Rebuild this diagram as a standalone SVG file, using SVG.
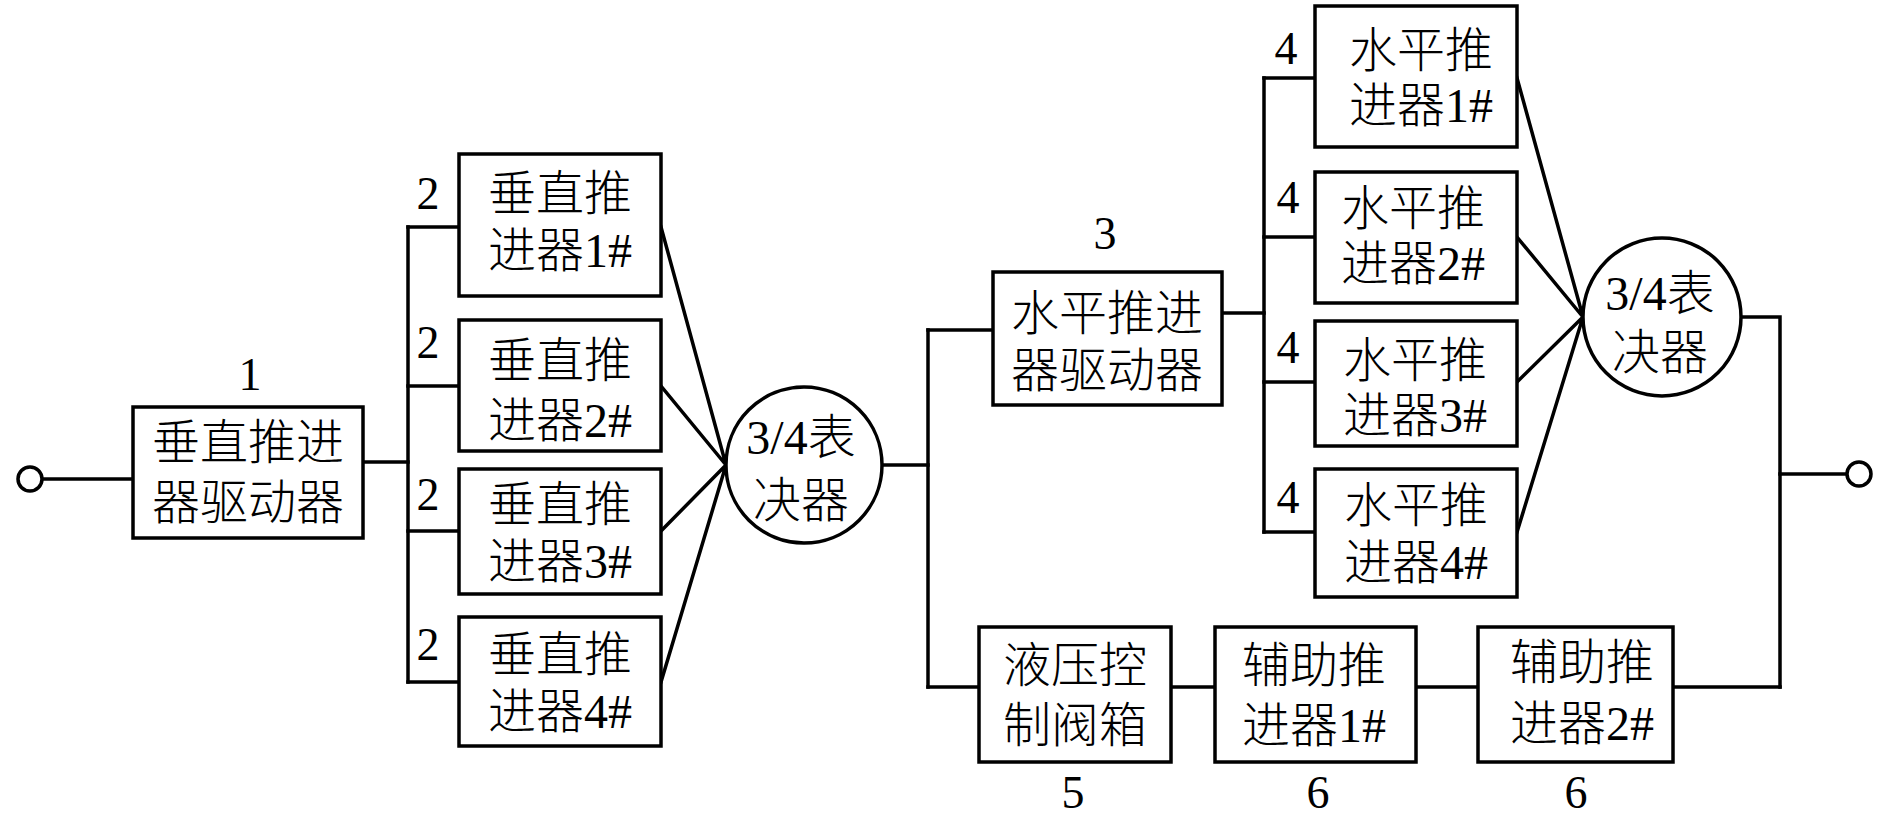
<svg xmlns="http://www.w3.org/2000/svg" width="1890" height="827" viewBox="0 0 1890 827">
<style>
.box{fill:#fff;stroke:#000;stroke-width:3.5}
.ln{fill:none;stroke:#000;stroke-width:3.5;stroke-linecap:square}
.vote{fill:#fff;stroke:#000;stroke-width:3.5}
.term{fill:#fff;stroke:#000;stroke-width:3.5}
text{font-family:"Liberation Serif","Noto Sans CJK SC",serif;font-size:48px;font-weight:300;text-anchor:middle;fill:#000}
.num{font-size:46px;font-weight:400}
</style>
<rect width="1890" height="827" fill="#fff"/>
<g id="connectors">
<path class="ln" d="M42 479H133"/>
<path class="ln" d="M363 462H408"/>
<path class="ln" d="M408 227V682"/>
<path class="ln" d="M408 227H459M408 386H459M408 531H459M408 682H459"/>
<path class="ln" d="M661 227L726 465M661 386L726 465M661 531L726 465M661 682L726 465"/>
<path class="ln" d="M882 465H928"/>
<path class="ln" d="M928 330V687"/>
<path class="ln" d="M928 330H993"/>
<path class="ln" d="M1222 313H1264"/>
<path class="ln" d="M1264 78V532"/>
<path class="ln" d="M1264 78H1315M1264 237H1315M1264 382H1315M1264 532H1315"/>
<path class="ln" d="M1517 78L1583 317M1517 237L1583 317M1517 382L1583 317M1517 532L1583 317"/>
<path class="ln" d="M1741 317H1780V687"/>
<path class="ln" d="M1780 474H1847"/>
<path class="ln" d="M928 687H979M1171 687H1215M1416 687H1478M1673 687H1780"/>
</g>
<g id="in-terminal"><circle class="term" cx="30" cy="479" r="12"/></g>
<g id="out-terminal"><circle class="term" cx="1859" cy="474" r="12"/></g>
<g id="node1">
<rect class="box" x="133" y="407" width="230" height="131"/>
<text x="248" y="459">垂直推进</text>
<text x="248" y="519">器驱动器</text>
<text class="num" x="250" y="390">1</text>
</g>
<g id="vt1">
<rect class="box" x="459" y="154" width="202" height="142"/>
<text x="560" y="210">垂直推</text>
<text x="560" y="267">进器1#</text>
<text class="num" x="428" y="209">2</text>
</g>
<g id="vt2">
<rect class="box" x="459" y="320" width="202" height="131"/>
<text x="560" y="377">垂直推</text>
<text x="560" y="437">进器2#</text>
<text class="num" x="428" y="358">2</text>
</g>
<g id="vt3">
<rect class="box" x="459" y="469" width="202" height="125"/>
<text x="560" y="521">垂直推</text>
<text x="560" y="578">进器3#</text>
<text class="num" x="428" y="510">2</text>
</g>
<g id="vt4">
<rect class="box" x="459" y="617" width="202" height="129"/>
<text x="560" y="671">垂直推</text>
<text x="560" y="728">进器4#</text>
<text class="num" x="428" y="660">2</text>
</g>
<g id="voter1">
<circle class="vote" cx="804" cy="465" r="78"/>
<text x="801" y="454">3/4表</text>
<text x="801" y="517">决器</text>
</g>
<g id="node3">
<rect class="box" x="993" y="272" width="229" height="133"/>
<text x="1107" y="330">水平推进</text>
<text x="1107" y="387">器驱动器</text>
<text class="num" x="1105" y="249">3</text>
</g>
<g id="ht1">
<rect class="box" x="1315" y="6" width="202" height="141"/>
<text x="1421" y="67">水平推</text>
<text x="1421" y="122">进器1#</text>
<text class="num" x="1286" y="64">4</text>
</g>
<g id="ht2">
<rect class="box" x="1315" y="172" width="202" height="131"/>
<text x="1413" y="225">水平推</text>
<text x="1413" y="280">进器2#</text>
<text class="num" x="1288" y="213">4</text>
</g>
<g id="ht3">
<rect class="box" x="1315" y="321" width="202" height="125"/>
<text x="1415" y="377">水平推</text>
<text x="1415" y="432">进器3#</text>
<text class="num" x="1288" y="363">4</text>
</g>
<g id="ht4">
<rect class="box" x="1315" y="469" width="202" height="128"/>
<text x="1416" y="522">水平推</text>
<text x="1416" y="579">进器4#</text>
<text class="num" x="1288" y="513">4</text>
</g>
<g id="voter2">
<circle class="vote" cx="1662" cy="317" r="79"/>
<text x="1660" y="310">3/4表</text>
<text x="1660" y="369">决器</text>
</g>
<g id="node5">
<rect class="box" x="979" y="627" width="192" height="135"/>
<text x="1075" y="682">液压控</text>
<text x="1075" y="742">制阀箱</text>
<text class="num" x="1073" y="808">5</text>
</g>
<g id="aux1">
<rect class="box" x="1215" y="627" width="201" height="135"/>
<text x="1314" y="682">辅助推</text>
<text x="1314" y="742">进器1#</text>
<text class="num" x="1318" y="808">6</text>
</g>
<g id="aux2">
<rect class="box" x="1478" y="627" width="195" height="135"/>
<text x="1582" y="679">辅助推</text>
<text x="1582" y="740">进器2#</text>
<text class="num" x="1576" y="808">6</text>
</g>
</svg>
